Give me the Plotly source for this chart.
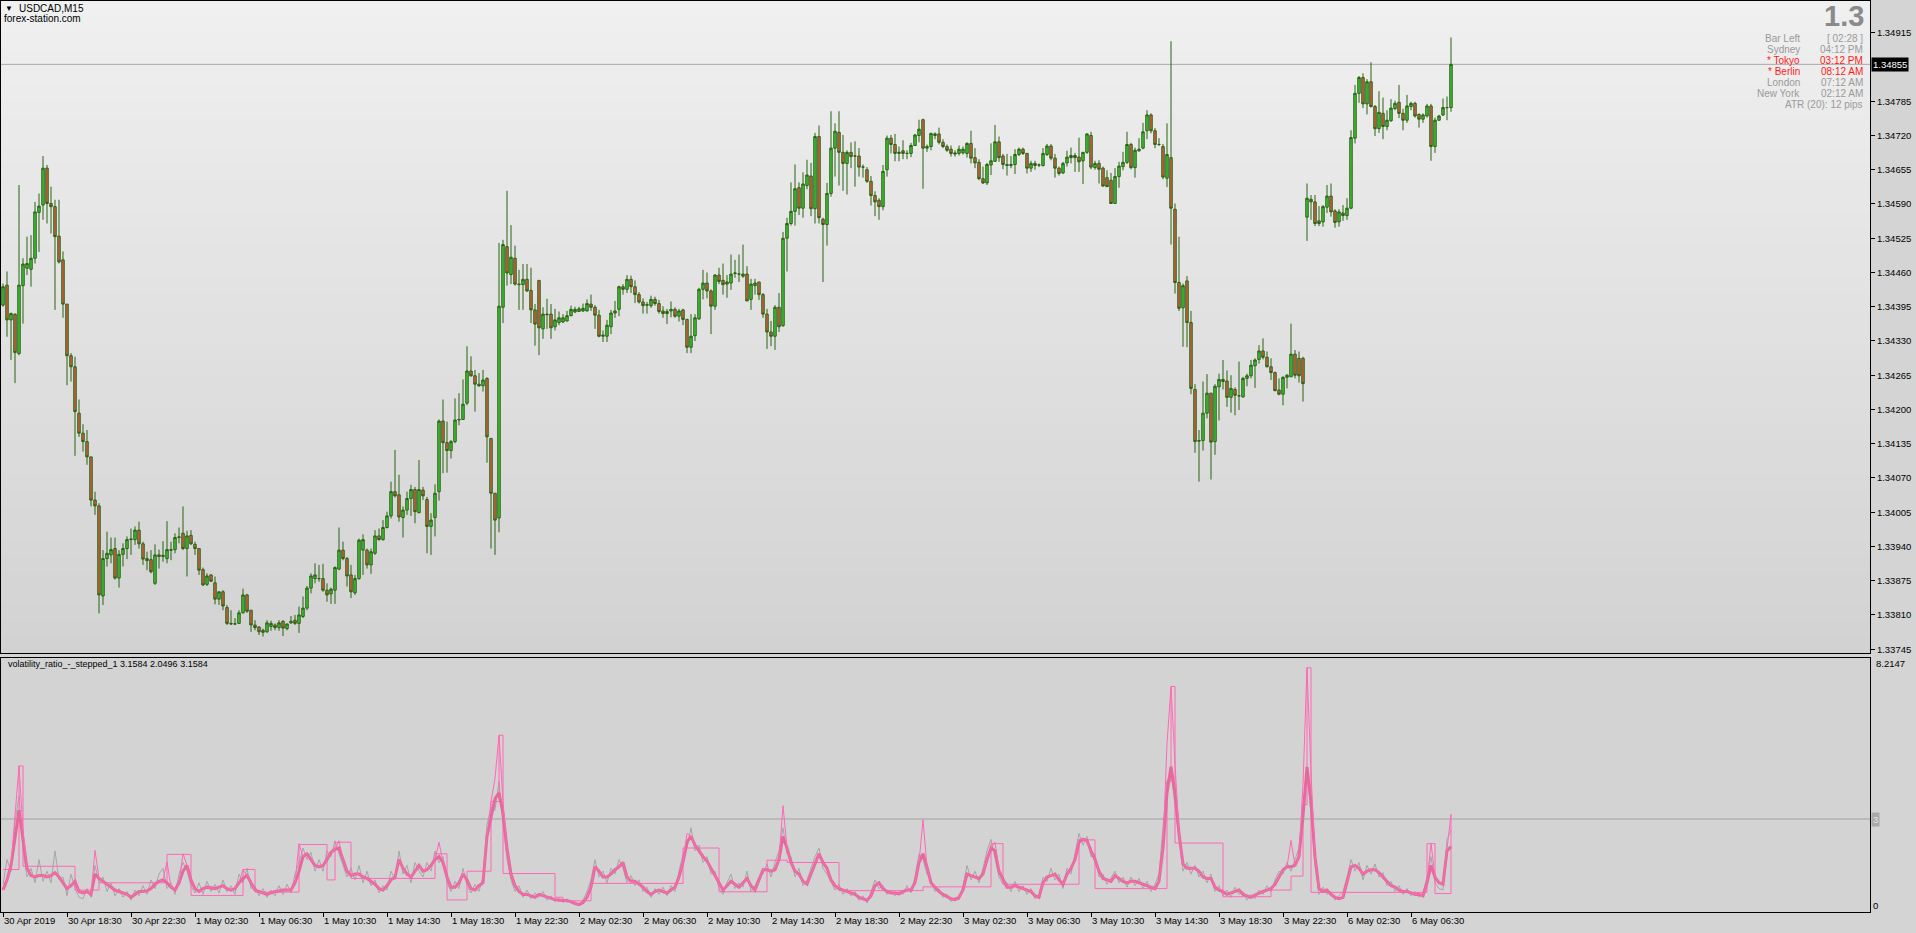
import plotly.graph_objects as go

# ---------------- DATA (prices in points of 0.00001 above 1.33700) ----------------
BASE = 1.33700
PT = 0.00001

o_pts = [698,736,670,681,606,735,768,766,787,874,
888,958,891,885,829,784,700,602,581,493,
455,439,410,328,317,146,217,224,236,180,
225,236,253,253,271,245,217,215,170,224,
221,217,234,234,257,265,236,261,244,236,
196,168,186,171,140,154,124,94,93,94,
114,148,119,91,87,81,78,88,91,86,
98,84,95,100,94,107,123,161,179,179,
179,157,150,157,197,233,217,186,152,179,
233,233,205,227,260,253,276,298,344,338,
295,309,331,348,304,347,329,278,295,344,
478,437,422,439,480,481,512,573,564,548,
545,559,445,341,294,694,809,756,787,738,
737,747,726,689,745,653,681,681,657,665,
666,668,678,685,686,687,687,700,694,679,
639,639,657,683,690,733,728,747,733,718,
704,699,697,709,701,687,686,687,690,677,
689,671,618,640,672,728,740,725,696,755,
745,742,740,758,757,757,757,709,735,742,
718,681,647,639,694,659,825,853,876,921,
882,925,943,881,1018,861,851,910,996,1026,
988,967,988,981,981,960,955,933,906,897,
885,955,1015,1003,986,991,986,986,1001,1020,
1050,996,999,1020,1023,1007,999,994,987,986,
987,986,1005,978,969,938,930,964,971,1008,
981,965,963,965,984,994,986,958,967,964,
963,984,1000,977,958,949,968,978,982,979,
972,988,1020,959,967,958,940,935,891,942,
961,969,1003,959,991,996,1029,1059,1029,1003,
999,939,978,880,741,693,744,665,538,441,
441,493,531,439,543,557,554,523,538,526,
524,559,564,583,595,611,599,581,570,537,
529,561,562,605,597,597,865,899,894,858,
856,884,905,877,856,873,868,882,1015,1100,
1130,1080,1122,1075,1033,1062,1037,1048,1071,1083,
1062,1049,1075,1081,1060,1051,1057,1076,999,1049,
1059,1073,1073]

h_pts = [739,762,684,682,926,787,828,831,894,910,
981,964,923,898,898,800,700,607,600,519,
472,461,410,344,322,233,268,257,257,233,
246,259,274,278,287,249,230,233,244,234,
250,288,249,265,276,316,270,271,249,236,
200,189,187,183,154,157,129,119,104,119,
160,150,119,100,89,84,100,99,94,100,
100,93,108,110,126,145,165,189,208,205,
207,170,162,202,276,249,220,205,186,255,
263,236,236,271,274,290,306,363,423,376,
316,344,357,353,404,353,334,303,358,481,
519,477,442,521,531,557,620,601,575,569,
575,561,446,341,816,822,915,850,811,765,
776,776,769,700,745,694,710,700,691,686,
681,687,697,695,695,701,709,718,698,689,
650,670,689,706,735,738,755,754,745,723,
711,704,716,714,708,696,691,705,694,691,
691,672,681,681,731,765,760,728,757,769,
777,755,794,784,794,813,772,748,748,742,
721,691,668,698,721,837,864,931,965,931,
950,974,968,1025,1039,864,930,1066,1043,1066,
1021,992,1007,1009,996,965,960,943,914,901,
964,1020,1021,1023,999,1011,992,1006,1023,1050,
1052,1003,1025,1026,1035,1013,1003,1001,992,1001,
999,1007,1029,996,975,961,968,1005,1040,1018,
985,985,981,994,997,997,987,972,972,967,
996,1004,1004,985,961,970,991,997,987,1016,
989,1024,1027,972,973,961,954,949,958,970,
989,1027,1006,997,1015,1044,1068,1062,1034,1015,
1004,1043,1199,891,828,739,753,687,548,461,
553,567,531,548,568,594,574,565,542,591,
562,568,594,597,622,635,610,597,572,559,
563,567,663,613,610,600,929,907,907,886,
888,926,929,880,880,888,901,1030,1116,1133,
1138,1127,1159,1078,1104,1092,1068,1089,1086,1116,
1071,1097,1084,1084,1062,1062,1080,1080,1054,1059,
1090,1094,1206]

l_pts = [695,638,594,550,603,663,755,733,777,799,
860,853,834,689,777,674,546,553,412,448,
420,395,316,300,113,129,202,208,177,162,
202,216,224,243,236,205,195,189,167,198,
211,208,214,227,246,233,183,243,224,186,
165,165,173,130,129,119,91,91,91,93,
113,114,78,81,72,69,76,80,81,80,
70,81,93,91,76,104,119,151,170,173,
154,135,131,131,195,214,164,142,148,177,
186,198,188,224,251,251,274,293,333,287,
257,300,298,284,303,328,227,224,259,327,
379,380,407,436,470,480,508,562,496,543,
534,399,236,224,267,664,735,738,735,689,
689,723,664,621,603,634,653,634,650,660,
664,667,677,683,685,685,686,687,653,637,
628,628,643,674,677,718,721,721,702,701,
682,682,693,697,682,674,662,675,674,667,
660,607,607,630,670,709,711,643,689,738,
718,712,727,750,742,750,706,689,718,708,
674,615,620,613,647,657,762,849,849,869,
864,918,867,853,853,742,811,904,942,925,
915,908,958,923,942,940,930,887,867,860,
878,942,986,971,971,975,975,979,1000,1007,
919,989,992,1013,1003,996,989,980,980,982,
984,978,967,958,935,928,926,945,970,970,
956,944,958,947,981,983,948,951,955,960,
961,981,973,940,944,947,961,967,951,951,
928,985,956,955,929,923,923,891,891,921,
954,966,956,940,989,994,1013,1024,996,1000,
937,922,813,720,687,619,618,529,418,363,
422,483,367,414,479,538,505,494,489,499,
522,544,559,541,587,595,580,556,534,527,
508,540,562,559,551,515,820,860,848,848,
847,873,866,845,847,858,860,880,1005,1082,
1072,1060,1073,1019,1025,1013,1030,1046,1068,1053,
1030,1044,1068,1054,1035,1044,1054,972,987,1048,
1057,1049,1065]

c_pts = [733,670,682,608,736,776,777,787,875,886,
958,891,885,828,780,700,602,581,496,455,
439,410,328,317,148,217,227,234,180,225,
236,253,254,271,245,216,213,192,224,221,
223,234,233,257,258,236,260,245,236,195,
167,184,174,140,154,127,94,93,93,114,
148,117,91,86,78,77,95,94,86,95,
85,93,98,94,110,123,161,184,186,179,
157,148,159,200,233,217,184,154,179,252,
253,205,230,260,253,276,298,344,336,296,
309,331,348,306,348,336,278,290,341,478,
437,422,439,480,481,510,573,564,548,545,
556,448,341,290,696,813,759,789,738,737,
747,725,689,662,655,681,680,655,670,674,
674,678,690,690,691,692,701,694,679,639,
641,660,683,687,733,728,747,733,718,704,
697,698,709,701,686,682,682,690,677,687,
671,618,639,674,728,740,725,696,755,743,
737,738,757,759,757,753,706,738,740,718,
681,647,639,694,657,825,853,876,919,882,
928,945,881,1018,864,851,910,996,1028,988,
967,988,980,981,960,960,933,906,894,885,
952,1015,1003,986,988,986,986,1001,1021,1032,
996,999,1024,1023,1007,999,992,986,985,994,
994,1005,977,968,938,930,965,972,1008,978,
965,963,965,984,994,986,958,967,963,964,
986,1000,977,958,948,967,979,982,978,970,
988,1023,960,967,956,924,923,891,942,962,
969,1003,959,992,994,1027,1059,1029,1003,1003,
941,984,882,741,692,735,665,540,439,440,
493,531,438,544,557,553,523,540,527,526,
559,564,584,594,611,599,581,570,536,529,
561,565,605,565,564,549,901,894,853,853,
885,905,875,855,875,868,882,1016,1100,1130,
1080,1122,1075,1033,1064,1037,1049,1072,1081,1062,
1049,1076,1081,1057,1051,1059,1076,999,1049,1057,
1073,1073,1155]

# volatility ratio (thin pink), its smoothed value (thick), a grey companion line
vr_raw = [0.55,0.9,1.4,3.0,4.83,2.6,1.3,1.05,1.0,1.05,
1.05,1.0,1.05,1.15,1.0,0.8,0.6,0.7,0.85,0.5,
0.45,0.5,0.4,1.92,0.95,0.85,0.75,0.65,0.55,0.5,
0.45,0.4,0.3,0.4,0.5,0.5,0.52,0.6,0.75,0.85,
0.9,1.52,0.65,0.55,0.8,1.8,1.4,0.9,0.6,0.5,
0.6,0.65,0.62,0.6,0.65,0.7,0.6,0.55,0.6,0.8,
1.25,1.05,0.8,0.55,0.5,0.45,0.4,0.45,0.5,0.52,
0.55,0.55,0.55,0.8,2.15,1.7,1.8,1.6,1.4,1.35,
1.4,1.6,1.85,1.95,2.25,1.6,1.2,1.05,1.1,1.1,
1.0,0.95,0.85,0.75,0.6,0.55,0.7,0.9,1.0,1.6,
1.3,1.1,1.0,1.2,1.4,1.2,1.25,1.4,1.6,2.2,
1.5,1.0,0.65,0.65,0.8,1.1,0.9,0.6,0.55,0.7,
0.8,2.4,3.6,4.4,5.89,3.6,2.0,1.1,0.7,0.5,
0.4,0.4,0.35,0.3,0.4,0.35,0.3,0.25,0.22,0.2,
0.2,0.18,0.15,0.08,0.05,0.12,0.3,0.65,1.35,1.2,
1.0,1.0,1.1,1.25,1.35,1.5,1.0,0.85,0.85,0.75,
0.65,0.5,0.4,0.5,0.55,0.5,0.45,0.55,0.65,1.0,
1.5,2.5,2.4,2.1,1.9,1.7,1.55,1.3,1.0,0.75,
0.55,0.7,0.85,0.75,0.65,0.8,0.95,0.7,0.55,0.9,
1.25,1.25,1.2,1.25,1.6,3.46,2.0,1.5,1.2,1.1,
0.85,0.75,1.1,1.5,1.8,1.5,1.3,0.9,0.7,0.6,
0.55,0.5,0.45,0.4,0.3,0.25,0.2,0.35,0.7,0.8,
0.6,0.5,0.45,0.45,0.42,0.5,0.55,0.55,0.8,1.5,
2.97,1.35,0.8,0.65,0.5,0.4,0.32,0.25,0.22,0.3,
0.55,1.1,1.05,1.0,0.95,1.1,1.6,2.0,2.2,1.2,
0.9,0.65,0.65,0.7,0.65,0.6,0.55,0.5,0.35,0.3,
0.8,1.0,1.05,1.1,0.9,0.75,1.1,1.3,1.6,2.3,
2.3,2.25,1.9,1.6,1.2,0.95,0.9,0.85,1.05,0.95,
0.85,0.8,0.85,0.85,0.8,0.75,0.7,0.65,0.6,0.85,
2.0,5.6,7.57,4.9,2.5,1.45,1.3,1.3,1.3,1.2,
1.0,0.95,0.95,0.65,0.55,0.5,0.4,0.45,0.5,0.55,
0.4,0.35,0.3,0.38,0.45,0.5,0.55,0.6,0.75,1.0,
1.25,1.35,2.26,1.4,1.7,4.2,8.2147,4.6,1.7,0.6,
0.5,0.55,0.4,0.3,0.25,0.3,0.8,1.35,1.4,1.3,
1.1,1.2,1.25,1.25,1.15,1.0,0.85,0.7,0.65,0.55,
0.5,0.5,0.45,0.4,0.4,0.35,0.8,2.17,1.0,0.8,
0.75,1.9,3.1584]

vr_smooth = [0.55,0.9,1.4,2.3,3.3,2.3,1.3,1.05,1.0,1.05,
1.05,1.0,1.05,1.15,1.0,0.8,0.6,0.7,0.85,0.5,
0.45,0.5,0.4,1.1,0.95,0.85,0.75,0.65,0.55,0.5,
0.45,0.4,0.3,0.4,0.5,0.5,0.52,0.6,0.75,0.85,
0.9,0.8,0.65,0.55,0.8,1.2,1.4,0.9,0.6,0.5,
0.6,0.65,0.62,0.6,0.65,0.7,0.6,0.55,0.6,0.8,
0.95,1.05,0.8,0.55,0.5,0.45,0.4,0.45,0.5,0.52,
0.55,0.55,0.55,0.8,1.2,1.7,1.8,1.6,1.4,1.35,
1.4,1.6,1.85,1.95,2.0,1.6,1.2,1.05,1.1,1.1,
1.0,0.95,0.85,0.75,0.6,0.55,0.7,0.9,1.0,1.6,
1.3,1.1,1.0,1.2,1.4,1.2,1.25,1.4,1.6,1.7,
1.5,1.0,0.65,0.65,0.8,1.1,0.9,0.6,0.55,0.7,
0.8,2.4,3.1,3.7,3.9,3.2,2.0,1.1,0.7,0.5,
0.4,0.4,0.35,0.3,0.4,0.35,0.3,0.25,0.22,0.2,
0.2,0.18,0.15,0.08,0.05,0.12,0.3,0.65,1.35,1.2,
1.0,1.0,1.1,1.25,1.35,1.5,1.0,0.85,0.85,0.75,
0.65,0.5,0.4,0.5,0.55,0.5,0.45,0.55,0.65,1.0,
1.5,2.2,2.4,2.1,1.9,1.7,1.55,1.3,1.0,0.75,
0.55,0.7,0.85,0.75,0.65,0.8,0.95,0.7,0.55,0.9,
1.25,1.25,1.2,1.25,1.6,2.4,2.0,1.5,1.2,1.1,
0.85,0.75,1.1,1.5,1.8,1.5,1.3,0.9,0.7,0.6,
0.55,0.5,0.45,0.4,0.3,0.25,0.2,0.35,0.7,0.8,
0.6,0.5,0.45,0.45,0.42,0.5,0.55,0.55,0.8,1.5,
1.8,1.35,0.8,0.65,0.5,0.4,0.32,0.25,0.22,0.3,
0.55,1.1,1.05,1.0,0.95,1.1,1.6,2.0,1.9,1.2,
0.9,0.65,0.65,0.7,0.65,0.6,0.55,0.5,0.35,0.3,
0.8,1.0,1.05,1.1,0.9,0.75,1.1,1.3,1.6,2.2,
2.3,2.25,1.9,1.6,1.2,0.95,0.9,0.85,1.05,0.95,
0.85,0.8,0.85,0.85,0.8,0.75,0.7,0.65,0.6,0.85,
2.0,3.9,4.8,3.9,2.5,1.45,1.3,1.3,1.3,1.2,
1.0,0.95,0.95,0.65,0.55,0.5,0.4,0.45,0.5,0.55,
0.4,0.35,0.3,0.38,0.45,0.5,0.55,0.6,0.75,1.0,
1.25,1.35,1.35,1.4,1.7,3.1,4.8,3.6,1.7,0.6,
0.5,0.55,0.4,0.3,0.25,0.3,0.8,1.35,1.4,1.3,
1.1,1.2,1.25,1.25,1.15,1.0,0.85,0.7,0.65,0.55,
0.5,0.5,0.45,0.4,0.4,0.35,0.8,1.4,1.0,0.8,
0.75,1.9,2.0496]

vr_grey = [0.75,1.6,1.2,2.9,3.8,1.9,1.0,1.3,0.8,1.6,
0.85,1.2,0.8,1.9,0.9,1.0,0.35,1.1,0.6,0.3,
0.25,0.6,0.3,1.4,0.8,1.0,0.5,0.8,0.35,0.6,
0.3,0.5,0.2,0.55,0.35,0.7,0.4,0.9,0.6,1.1,
1.3,0.6,0.8,0.4,1.1,1.5,1.2,0.7,0.45,0.8,
0.4,0.85,0.5,0.75,0.45,0.9,0.5,0.7,0.4,1.1,
0.8,1.3,0.6,0.7,0.35,0.6,0.3,0.55,0.35,0.7,
0.4,0.75,0.45,1.1,1.5,2.0,1.6,1.85,1.2,1.6,
1.2,1.9,1.7,2.25,1.8,1.4,1.0,1.3,0.9,1.4,
0.8,1.2,0.7,0.9,0.45,0.7,0.55,1.2,0.9,1.9,
1.1,1.4,0.8,1.5,1.2,1.0,1.5,1.2,1.9,1.5,
1.7,0.8,0.5,0.85,0.6,1.3,0.7,0.45,0.75,0.5,
1.0,2.8,3.4,3.3,4.3,2.8,1.6,0.9,0.5,0.7,
0.3,0.55,0.25,0.45,0.3,0.5,0.2,0.35,0.15,0.3,
0.12,0.25,0.1,0.15,0.05,0.2,0.5,0.9,1.6,1.0,
1.2,0.8,1.3,1.1,1.6,1.3,0.8,1.05,0.7,0.9,
0.5,0.65,0.3,0.6,0.4,0.65,0.35,0.7,0.5,1.2,
1.8,2.0,2.7,1.9,2.1,1.5,1.7,1.1,1.2,0.6,
0.4,0.8,1.1,0.6,0.8,0.65,1.2,0.5,0.7,1.0,
1.1,1.45,1.0,1.5,1.9,2.7,1.8,1.7,1.0,1.3,
0.7,0.9,1.3,1.7,2.0,1.3,1.1,0.8,0.55,0.75,
0.4,0.6,0.35,0.5,0.2,0.35,0.1,0.5,0.9,0.6,
0.7,0.4,0.55,0.35,0.5,0.4,0.7,0.45,1.0,1.8,
1.6,1.1,0.9,0.5,0.6,0.3,0.4,0.15,0.3,0.2,
0.7,1.4,0.9,1.2,0.8,1.3,1.9,2.3,1.7,1.0,
0.75,0.8,0.5,0.85,0.5,0.7,0.4,0.6,0.25,0.4,
1.0,0.85,1.3,0.9,1.1,0.6,1.3,1.1,1.8,2.5,
2.1,2.4,1.7,1.8,1.0,1.1,0.75,1.0,1.2,0.8,
1.0,0.65,1.0,0.7,0.95,0.6,0.85,0.5,0.75,1.1,
2.6,4.3,4.6,3.5,2.2,1.2,1.5,1.1,1.4,1.0,
1.2,0.8,1.1,0.5,0.7,0.35,0.55,0.3,0.65,0.4,
0.5,0.2,0.4,0.25,0.55,0.4,0.7,0.5,0.9,1.2,
1.1,1.5,1.2,1.6,2.0,3.5,4.6,3.2,1.4,0.4,
0.65,0.4,0.5,0.2,0.35,0.5,1.0,1.6,1.2,1.5,
0.9,1.4,1.1,1.45,1.0,1.15,0.7,0.85,0.5,0.7,
0.4,0.6,0.35,0.5,0.3,0.45,1.0,1.7,0.8,0.6,
0.55,2.3,2.6]

# stepped volatility ratio: bar where a step starts and its level
step_bar = [0,4,5,18,24,41,47,60,63,74,81,83,87,108,111,116,122,124,125,138,140,147,170,179,
            191,196,209,230,247,250,269,273,291,292,293,305,317,322,325,326,327,356,358,362]
step_val = [1.26,4.83,1.37,0.55,0.8,1.78,0.36,1.26,0.48,2.12,0.9,2.2,0.95,1.8,0.21,1.2,3.6,5.89,1.12,0.3,0.18,0.78,2.0,0.49,
            1.58,1.5,0.53,0.66,2.15,0.75,2.28,0.6,4.3,7.57,2.17,0.32,0.55,1.03,3.5,8.2147,0.47,2.15,0.43,3.1584]

LEVEL = 3

time_tick_bars = [0,16,32,48,64,80,96,112,128,144,160,176,192,208,224,240,256,272,288,304,320,336,352]
time_tick_labels = ["30 Apr 2019","30 Apr 18:30","30 Apr 22:30","1 May 02:30","1 May 06:30","1 May 10:30",
                    "1 May 14:30","1 May 18:30","1 May 22:30","2 May 02:30","2 May 06:30","2 May 10:30",
                    "2 May 14:30","2 May 18:30","2 May 22:30","3 May 02:30","3 May 06:30","3 May 10:30",
                    "3 May 14:30","3 May 18:30","3 May 22:30","6 May 02:30","6 May 06:30"]

price_ticks = [1.33745,1.33810,1.33875,1.33940,1.34005,1.34070,1.34135,1.34200,1.34265,1.34330,
               1.34395,1.34460,1.34525,1.34590,1.34655,1.34720,1.34785,1.34915]

info_labels = ["Bar Left","Sydney","* Tokyo","* Berlin","London","New York"]
info_values = ["[ 02:28 ]","04:12 PM","03:12 PM","08:12 AM","07:12 AM","02:12 AM"]
info_red = [False,False,True,True,False,False]

# ---------------- BUILD ----------------
bars = list(range(len(c_pts)))
opens = [round(BASE + v * PT, 5) for v in o_pts]
highs = [round(BASE + v * PT, 5) for v in h_pts]
lows = [round(BASE + v * PT, 5) for v in l_pts]
closes = [round(BASE + v * PT, 5) for v in c_pts]

W, H = 1916, 933
ML, MR, MT, MB = 1, 46, 1, 21
PW = W - ML - MR
PH = H - MT - MB


def px(x):
    return (x - ML) / PW


def py(y):
    return (H - MB - y) / PH


top_dom = [py(653), 1.0]
bot_dom = [0.0, py(658)]

FONT = "Liberation Sans, Arial, sans-serif"
DARK = "#2A6212"

fig = go.Figure()

fig.add_trace(go.Candlestick(
    x=bars, open=opens, high=highs, low=lows, close=closes,
    xaxis="x", yaxis="y",
    increasing=dict(line=dict(color=DARK, width=1), fillcolor="#3FC23A"),
    decreasing=dict(line=dict(color=DARK, width=1), fillcolor="#D0623F"),
    whiskerwidth=0, hoverinfo="skip", showlegend=False,
))

fig.add_trace(go.Scatter(x=bars, y=vr_grey, xaxis="x2", yaxis="y2", mode="lines",
                         line=dict(color="#A6A6A6", width=1), hoverinfo="skip", showlegend=False))
fig.add_trace(go.Scatter(x=step_bar, y=step_val, xaxis="x2", yaxis="y2", mode="lines",
                         line=dict(color="#FF69B4", width=1, shape="hv"), hoverinfo="skip", showlegend=False))
fig.add_trace(go.Scatter(x=bars, y=vr_smooth, xaxis="x2", yaxis="y2", mode="lines",
                         line=dict(color="#E56A9B", width=3), hoverinfo="skip", showlegend=False))
fig.add_trace(go.Scatter(x=bars, y=vr_raw, xaxis="x2", yaxis="y2", mode="lines",
                         line=dict(color="#FF69B4", width=1), hoverinfo="skip", showlegend=False))

shapes = []
N = 40
for k in range(N):
    t = (k + 0.5) / N
    c = int(round(240 - (240 - 210) * t))
    y0 = max(0.0, 1 - (k + 1) / N - 0.01)
    shapes.append(dict(type="rect", xref="x domain", yref="y domain", x0=0, x1=1,
                       y0=y0, y1=1 - k / N, fillcolor=f"rgb({c},{c},{c})",
                       line=dict(width=0), layer="below"))
shapes.append(dict(type="rect", xref="x2 domain", yref="y2 domain", x0=0, x1=1, y0=0, y1=1,
                   fillcolor="#D3D3D3", line=dict(width=0), layer="below"))
# bid line
shapes.append(dict(type="line", xref="x domain", yref="y", x0=0, x1=1, y0=closes[-1], y1=closes[-1],
                   line=dict(color="#A8A8A8", width=1), layer="below"))
# indicator level
shapes.append(dict(type="line", xref="x2 domain", yref="y2", x0=0, x1=1, y0=LEVEL, y1=LEVEL,
                   line=dict(color="#A0A0A0", width=1), layer="below"))

ann = []


def text(x, y, s, size=10, color="black", anchor="left", bold=False, bg=None):
    d = dict(xref="paper", yref="paper", x=px(x), y=py(y), text=("<b>%s</b>" % s) if bold else s,
             showarrow=False, xanchor=anchor, yanchor="middle",
             font=dict(family=FONT, size=size, color=color))
    if bg:
        d["bgcolor"] = bg
        d["borderpad"] = 0
    ann.append(d)


text(3, 9, "▼", size=8)
text(17, 9, "USDCAD,M15", size=10)
text(2, 18, "forex-station.com", size=10)

text(1866, 16, "1.3", size=29, color="#8A8A8A", anchor="right", bold=True)
for k, (lab, val, red) in enumerate(zip(info_labels, info_values, info_red)):
    yy = 39 + 11 * k
    col = "#FF1A1A" if red else "#9A9A9A"
    text(1802, yy, lab, size=10, color=col, anchor="right")
    text(1865, yy, val, size=10, color=col, anchor="right")
text(1865, 105, "ATR (20): 12 pips", size=10, color="#9A9A9A", anchor="right")

text(6, 664, "volatility_ratio_-_stepped_1 %.4f %.4f %.4f" % (vr_raw[-1], vr_smooth[-1], step_val[-1]), size=9)

# current price label on the axis
ann.append(dict(xref="paper", yref="y", x=px(1871), y=closes[-1], text="%.5f" % closes[-1],
                showarrow=False, xanchor="left", yanchor="middle", bgcolor="black",
                font=dict(family=FONT, size=9.5, color="white"), borderpad=1))
# indicator axis labels
text(1874, 663, "8.2147", size=9.5)
ann.append(dict(xref="paper", yref="y2", x=px(1871), y=LEVEL, text="3", showarrow=False,
                xanchor="left", yanchor="middle", bgcolor="#A9A9A9",
                font=dict(family=FONT, size=9.5, color="#E6E6E6"), borderpad=1))

axis_common = dict(showgrid=False, zeroline=False, showline=True, linecolor="black", linewidth=1,
                   mirror=True, tickfont=dict(family=FONT, size=9.5, color="black"))

xr = [-0.5, (W - MR - 3) / 4.0]

fig.update_layout(
    width=W, height=H,
    margin=dict(l=ML, r=MR, t=MT, b=MB, pad=0),
    paper_bgcolor="#D4D4D4", plot_bgcolor="rgba(0,0,0,0)",
    hovermode=False, showlegend=False, boxgap=0.12,
    shapes=shapes, annotations=ann,
    xaxis=dict(domain=[0, 1], anchor="y", range=xr, showticklabels=False, ticks="",
               rangeslider=dict(visible=False), **axis_common),
    yaxis=dict(domain=top_dom, anchor="x", side="right", range=[1.3373778, 1.3497528],
               tickvals=price_ticks, ticktext=["%.5f" % v for v in price_ticks],
               ticks="outside", ticklen=4, tickcolor="black", **axis_common),
    xaxis2=dict(domain=[0, 1], anchor="y2", matches="x", range=xr,
                tickvals=time_tick_bars, ticktext=time_tick_labels,
                ticks="outside", ticklen=4, tickcolor="black",
                ticklabelposition="outside right", **axis_common),
    yaxis2=dict(domain=bot_dom, anchor="x2", side="right", range=[-0.207, 8.552],
                tickvals=[0], ticktext=["0"], ticks="", **axis_common),
)

fig.write_html("out.html", config={"displayModeBar": False},
               post_script="document.body.style.margin='0px';document.body.style.overflow='hidden';")
